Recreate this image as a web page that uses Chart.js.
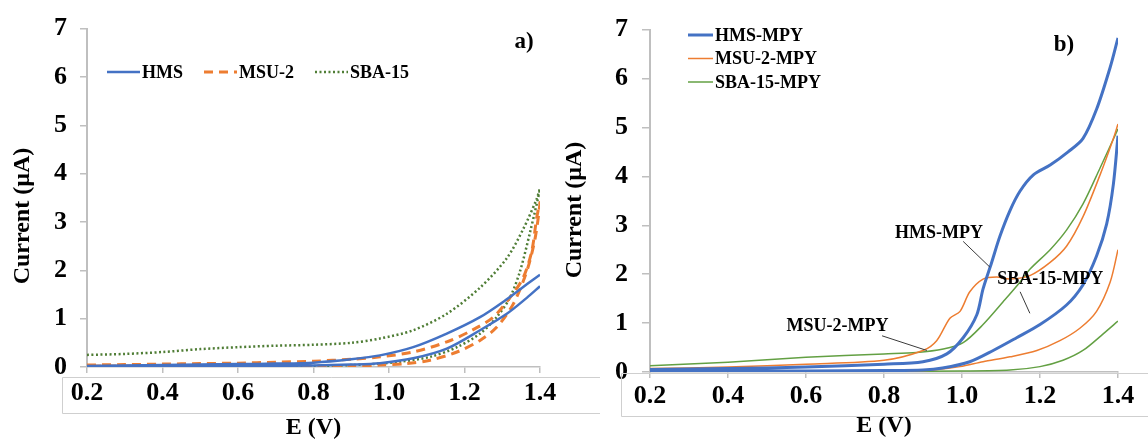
<!DOCTYPE html>
<html>
<head>
<meta charset="utf-8">
<script src="https://cdn.jsdelivr.net/npm/chart.js@4/dist/chart.umd.min.js"></script>
<style>
  html, body { margin: 0; padding: 0; background: #fff; }
  #wrap { position: relative; width: 1148px; height: 445px; overflow: hidden; }
  canvas { position: absolute; top: 0; }
  #chartA { left: 0; }
  #chartB { left: 560px; }
</style>
</head>
<body>
<div id="wrap">
  <canvas id="chartA" width="600" height="445"></canvas>
  <canvas id="chartB" width="588" height="445"></canvas>
</div>
<script>
// ---- axis ticks ----
const xTickValues = [0.2, 0.4, 0.6, 0.8, 1.0, 1.2, 1.4];
const yTickValues = [0, 1, 2, 3, 4, 5, 6, 7];

// ---- panel a) : bare supports ----
const labelsA = ["HMS", "MSU-2", "SBA-15"];

const hmsA_E1 = [0.2, 0.3, 0.4, 0.5, 0.6, 0.7, 0.8, 0.9, 0.976, 1.064, 1.153, 1.241, 1.312, 1.365, 1.4];
const hmsA_I1 = [0.02, 0.03, 0.04, 0.05, 0.06, 0.07, 0.09, 0.16, 0.24, 0.41, 0.69, 1.03, 1.4, 1.71, 1.91];
const hmsA_E2 = [1.4, 1.365, 1.312, 1.241, 1.153, 1.064, 0.976, 0.9, 0.8, 0.6, 0.4, 0.2];
const hmsA_I2 = [1.67, 1.43, 1.1, 0.76, 0.38, 0.18, 0.08, 0.05, 0.03, 0.02, 0.01, 0.01];

const msuA_E = [0.2, 0.3, 0.4, 0.5, 0.6, 0.7, 0.8, 0.9, 0.976, 1.064, 1.153, 1.22, 1.276, 1.32, 1.355, 1.378, 1.391, 1.4,
                1.387, 1.365, 1.329, 1.285, 1.241, 1.18, 1.109, 1.047, 0.976, 0.9, 0.7, 0.5, 0.3, 0.2];
const msuA_I = [0.04, 0.05, 0.06, 0.07, 0.08, 0.1, 0.12, 0.16, 0.21, 0.31, 0.52, 0.76, 1.03, 1.43, 1.84, 2.39, 3.07, 3.4,
                2.66, 1.98, 1.3, 0.82, 0.55, 0.31, 0.14, 0.07, 0.04, 0.02, 0.02, 0.02, 0.02, 0.02];

const sbaA_E = [0.2, 0.3, 0.4, 0.5, 0.6, 0.7, 0.8, 0.9, 0.976, 1.064, 1.153, 1.241, 1.312, 1.356, 1.391, 1.4,
                1.374, 1.347, 1.32, 1.285, 1.241, 1.18, 1.109, 1.03, 0.976, 0.9, 0.8, 0.6, 0.4, 0.2];
const sbaA_I = [0.25, 0.27, 0.31, 0.37, 0.41, 0.44, 0.46, 0.5, 0.59, 0.76, 1.1, 1.64, 2.25, 2.86, 3.47, 3.68,
                2.8, 1.98, 1.43, 1.03, 0.69, 0.41, 0.21, 0.11, 0.07, 0.04, 0.02, 0.01, 0.01, 0.01];

// ---- panel b) : MPY modified ----
const labelsB = ["HMS-MPY", "MSU-2-MPY", "SBA-15-MPY"];

const hmsB_E1 = [0.2, 0.4, 0.6, 0.8, 0.9, 0.961, 1.003, 1.038, 1.054, 1.076, 1.097, 1.123, 1.149, 1.183, 1.226, 1.272, 1.31, 1.345, 1.38, 1.4];
const hmsB_I1 = [0.05, 0.07, 0.1, 0.16, 0.21, 0.37, 0.7, 1.17, 1.7, 2.24, 2.77, 3.3, 3.7, 4.03, 4.23, 4.5, 4.77, 5.37, 6.23, 6.83];
const hmsB_E2 = [1.4, 1.388, 1.371, 1.345, 1.31, 1.268, 1.2, 1.14, 1.08, 1.02, 0.95, 0.9, 0.8, 0.6, 0.4, 0.2];
const hmsB_I2 = [4.83, 3.83, 3.03, 2.37, 1.78, 1.37, 0.97, 0.7, 0.44, 0.21, 0.08, 0.04, 0.03, 0.02, 0.02, 0.02];

const msuB_E1 = [0.2, 0.4, 0.6, 0.8, 0.9, 0.935, 0.969, 0.995, 1.02, 1.054, 1.089, 1.123, 1.174, 1.226, 1.268, 1.31, 1.354, 1.388, 1.4];
const msuB_I1 = [0.07, 0.1, 0.16, 0.24, 0.44, 0.64, 1.1, 1.24, 1.64, 1.9, 1.94, 1.9, 1.97, 2.24, 2.57, 3.17, 4.03, 4.77, 5.07];
const msuB_E2 = [1.4, 1.38, 1.345, 1.303, 1.251, 1.192, 1.123, 1.054, 0.995, 0.926, 0.86];
const msuB_I2 = [2.5, 1.84, 1.24, 0.9, 0.64, 0.44, 0.31, 0.21, 0.11, 0.04, 0.02];

const sbaB_E1 = [0.2, 0.4, 0.6, 0.8, 0.884, 0.952, 1.003, 1.054, 1.106, 1.149, 1.174, 1.226, 1.268, 1.31, 1.354, 1.4];
const sbaB_I1 = [0.13, 0.2, 0.3, 0.37, 0.4, 0.47, 0.6, 0.97, 1.44, 1.84, 2.1, 2.5, 2.9, 3.43, 4.17, 4.97];
const sbaB_E2 = [1.4, 1.362, 1.31, 1.259, 1.2, 1.123, 0.995, 0.8];
const sbaB_I2 = [1.04, 0.78, 0.44, 0.24, 0.11, 0.04, 0.02, 0.01];

// call-outs on panel b (text + anchor in data units)
const notesB = [
  { text: "HMS-MPY",    at: [0.941, 2.83], from: [1.003, 2.67], to: [1.072, 2.14] },
  { text: "SBA-15-MPY", at: [1.226, 1.90], from: [1.149, 1.64], to: [1.174, 1.20] },
  { text: "MSU-2-MPY",  at: [0.681, 0.94], from: [0.795, 0.74], to: [0.910, 0.44] }
];

const BLUE = "#4472C4", ORANGE = "#ED7D31", GREEN_DOT = "#4f7d35", GREEN = "#63a043";
const SERIF = "'Liberation Serif', 'Times New Roman', serif";

function pts(E, I) {
  return E.map((e, i) => ({ x: e, y: I[i] }));
}
function gapJoin(a, b) {
  return a.concat([{ x: null, y: null }], b);
}

// draws tick-label frame, legend, panel letter, y title, call-outs
const decorPlugin = {
  id: "decor",
  afterDraw(chart, args, o) {
    const ctx = chart.ctx;
    ctx.save();

    // frame round the x tick labels
    ctx.strokeStyle = "#cfcfcf";
    ctx.lineWidth = 1;
    ctx.setLineDash([]);
    ctx.beginPath();
    ctx.moveTo(chart.width, o.box.top + 0.5);
    ctx.lineTo(o.box.left + 0.5, o.box.top + 0.5);
    ctx.lineTo(o.box.left + 0.5, o.box.bottom + 0.5);
    ctx.lineTo(chart.width, o.box.bottom + 0.5);
    ctx.stroke();

    // y axis title
    ctx.fillStyle = "#000";
    ctx.font = "bold 24px " + SERIF;
    ctx.textAlign = "center";
    ctx.textBaseline = "middle";
    ctx.save();
    ctx.translate(o.yTitle.x, o.yTitle.y);
    ctx.rotate(-Math.PI / 2);
    ctx.fillText("Current (\u00b5A)", 0, 0);
    ctx.restore();

    // panel letter
    ctx.font = "bold 23px " + SERIF;
    ctx.fillText(o.letter.text, o.letter.x, o.letter.y);

    // legend
    const lg = o.legend;
    ctx.font = "bold 18px " + SERIF;
    ctx.textAlign = "left";
    let lx = lg.x, ly = lg.y;
    chart.data.datasets.forEach(ds => {
      ctx.strokeStyle = ds.borderColor;
      ctx.lineWidth = ds.borderWidth;
      ctx.setLineDash(ds.borderDash || []);
      ctx.beginPath();
      ctx.moveTo(lx, ly);
      ctx.lineTo(lx + lg.line, ly);
      ctx.stroke();
      ctx.setLineDash([]);
      ctx.fillStyle = "#000";
      ctx.fillText(ds.label, lx + lg.line + 2, ly + 1);
      if (lg.row) {
        lx += lg.line + 2 + ctx.measureText(ds.label).width + lg.gap;
      } else {
        ly += lg.gap;
      }
    });

    // call-outs
    const xs = chart.scales.x, ys = chart.scales.y;
    (o.notes || []).forEach(n => {
      ctx.strokeStyle = "#3a3a3a";
      ctx.lineWidth = 1;
      ctx.beginPath();
      ctx.moveTo(xs.getPixelForValue(n.from[0]), ys.getPixelForValue(n.from[1]));
      ctx.lineTo(xs.getPixelForValue(n.to[0]), ys.getPixelForValue(n.to[1]));
      ctx.stroke();
      ctx.fillStyle = "#000";
      ctx.textAlign = "center";
      ctx.fillText(n.text, xs.getPixelForValue(n.at[0]), ys.getPixelForValue(n.at[1]));
    });

    ctx.restore();
  }
};

function makeScales(p) {
  const tickFont = { family: SERIF, weight: "bold", size: 26 };
  return {
    x: {
      type: "linear",
      min: 0.2,
      max: 1.4,
      afterBuildTicks: s => { s.ticks = xTickValues.map(v => ({ value: v })); },
      afterFit: s => { s.height = p.xHeight; },
      ticks: { color: "#000", font: tickFont, padding: p.xPad, maxRotation: 0, autoSkip: false,
               callback: v => Number(v).toFixed(1) },
      grid: { drawOnChartArea: false, drawTicks: true, tickLength: 6, color: "#bfbfbf", lineWidth: 1.5 },
      border: { display: true, color: "#bfbfbf", width: 1.5 },
      title: { display: true, text: "E (V)", color: "#000",
               font: { family: SERIF, weight: "bold", size: 24 }, padding: { top: 0, bottom: p.tPad } }
    },
    y: {
      min: 0,
      max: 7,
      afterBuildTicks: s => { s.ticks = yTickValues.map(v => ({ value: v })); },
      afterFit: s => { s.width = p.yWidth; },
      ticks: { color: "#000", font: tickFont, padding: p.yPad },
      grid: { drawOnChartArea: false, drawTicks: true, tickLength: p.yTick, color: "#bfbfbf", lineWidth: 1.5 },
      border: { display: true, color: "#bfbfbf", width: 2 }
    }
  };
}

const commonOpts = {
  responsive: false,
  animation: false,
  parsing: true,
  elements: { point: { radius: 0 }, line: { tension: 0.3, fill: false } },
  plugins: { legend: { display: false }, tooltip: { enabled: false } }
};

new Chart(document.getElementById("chartA"), {
  type: "scatter",
  data: {
    datasets: [
      { label: labelsA[0], data: gapJoin(pts(hmsA_E1, hmsA_I1), pts(hmsA_E2, hmsA_I2)),
        borderColor: BLUE, borderWidth: 2.5, showLine: true },
      { label: labelsA[1], data: pts(msuA_E, msuA_I),
        borderColor: ORANGE, borderWidth: 3, borderDash: [9, 6], showLine: true },
      { label: labelsA[2], data: pts(sbaA_E, sbaA_I),
        borderColor: GREEN_DOT, borderWidth: 2.5, borderDash: [2, 2.5], showLine: true }
    ]
  },
  options: Object.assign({}, commonOpts, {
    layout: { padding: { left: 0, right: 60, top: 24, bottom: 0 } },
    scales: makeScales({ xHeight: 78, xPad: 5, tPad: 3, yWidth: 87, yPad: 13, yTick: 7 }),
    plugins: Object.assign({}, commonOpts.plugins, {
      decor: {
        box: { left: 62, top: 377, bottom: 413 },
        yTitle: { x: 23, y: 216 },
        letter: { text: "a)", x: 524, y: 42 },
        legend: { x: 107, y: 72, line: 33, gap: 21, row: true },
        notes: []
      }
    })
  }),
  plugins: [decorPlugin]
});

new Chart(document.getElementById("chartB"), {
  type: "scatter",
  data: {
    datasets: [
      { label: labelsB[0], data: gapJoin(pts(hmsB_E1, hmsB_I1), pts(hmsB_E2, hmsB_I2)),
        borderColor: BLUE, borderWidth: 3, showLine: true },
      { label: labelsB[1], data: gapJoin(pts(msuB_E1, msuB_I1), pts(msuB_E2, msuB_I2)),
        borderColor: ORANGE, borderWidth: 1.5, showLine: true },
      { label: labelsB[2], data: gapJoin(pts(sbaB_E1, sbaB_I1), pts(sbaB_E2, sbaB_I2)),
        borderColor: GREEN, borderWidth: 1.5, showLine: true }
    ]
  },
  options: Object.assign({}, commonOpts, {
    layout: { padding: { left: 0, right: 30, top: 21, bottom: 0 } },
    scales: makeScales({ xHeight: 73, xPad: 3, tPad: 5, yWidth: 90, yPad: 14, yTick: 8 }),
    plugins: Object.assign({}, commonOpts.plugins, {
      decor: {
        box: { left: 61, top: 373, bottom: 416 },
        yTitle: { x: 15, y: 210 },
        letter: { text: "b)", x: 504, y: 45 },
        legend: { x: 128, y: 35, line: 25, gap: 23.5, row: false },
        notes: notesB
      }
    })
  }),
  plugins: [decorPlugin]
});
</script>
</body>
</html>
